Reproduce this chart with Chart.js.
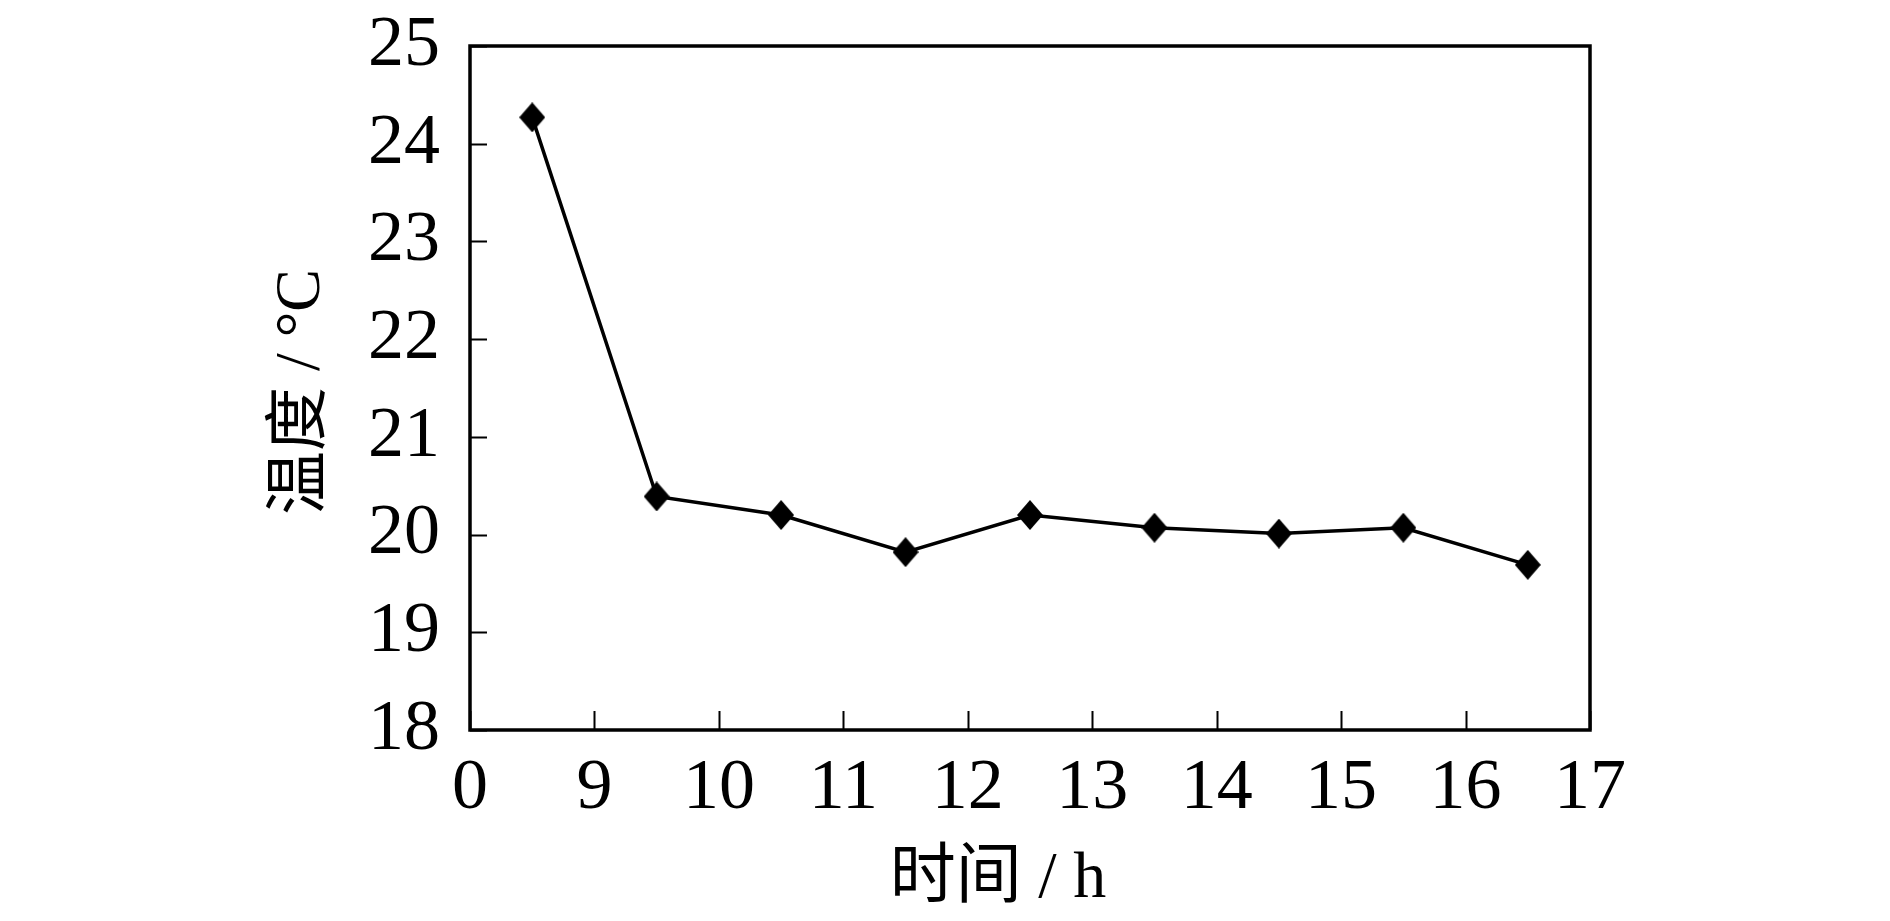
<!DOCTYPE html>
<html>
<head>
<meta charset="utf-8">
<script src="https://cdn.jsdelivr.net/npm/chart.js@4/dist/chart.umd.min.js"></script>
<style>
html, body { margin: 0; padding: 0; background: #fff; }
#wrap { width: 1890px; height: 921px; position: relative; }
</style>
</head>
<body>
<div id="wrap"><canvas id="myChart"></canvas></div>
<script>
// measurement times (h) and temperatures (°C)
const hours = [8.5, 9.5, 10.5, 11.5, 12.5, 13.5, 14.5, 15.5, 16.5];
const temps = [24.27, 20.39, 20.2, 19.82, 20.2, 20.07, 20.01, 20.07, 19.69];

// x axis tick positions and what is printed under them
const xTickValues = [8, 9, 10, 11, 12, 13, 14, 15, 16, 17];
const xTickLabels = ['0', '9', '10', '11', '12', '13', '14', '15', '16', '17'];
const yTickValues = [18, 19, 20, 21, 22, 23, 24, 25];

const xTitle = '时间 / h';
const yTitle = '温度 / °C';

const serif = '"Liberation Serif", "Times New Roman", "Noto Sans CJK SC", serif';

// slightly tall diamond marker, like the original
function makeDiamond(w, h) {
    const c = document.createElement('canvas');
    c.width = w;
    c.height = h;
    const g = c.getContext('2d');
    g.fillStyle = '#000';
    g.beginPath();
    g.moveTo(w / 2, 0);
    g.lineTo(w, h / 2);
    g.lineTo(w / 2, h);
    g.lineTo(0, h / 2);
    g.closePath();
    g.fill();
    return c;
}

// frame, inward tick marks and axis titles
const frameAndTitles = {
    id: 'frameAndTitles',
    afterDraw(chart) {
        const ctx = chart.ctx;
        const area = chart.chartArea;
        const xs = chart.scales.x;
        const ys = chart.scales.y;
        ctx.save();
        ctx.strokeStyle = '#000';
        ctx.lineWidth = 3.5;
        ctx.strokeRect(area.left, area.top, area.right - area.left, area.bottom - area.top);

        ctx.lineWidth = 2;
        ctx.beginPath();
        xTickValues.forEach(v => {
            const px = Math.round(xs.getPixelForValue(v)) + 0.5;
            ctx.moveTo(px, area.bottom);
            ctx.lineTo(px, area.bottom - 19);
        });
        yTickValues.forEach(v => {
            const py = Math.round(ys.getPixelForValue(v)) + 0.5;
            ctx.moveTo(area.left, py);
            ctx.lineTo(area.left + 17, py);
        });
        ctx.stroke();

        ctx.fillStyle = '#000';
        ctx.font = '66px ' + serif;
        ctx.textAlign = 'center';
        ctx.textBaseline = 'middle';
        ctx.fillText(xTitle, area.left + 528, 880);

        ctx.font = '64px ' + serif;
        ctx.translate(302, (area.top + area.bottom) / 2 + 4);
        ctx.rotate(-Math.PI / 2);
        ctx.fillText(yTitle, 0, 0);
        ctx.restore();
    }
};

function renderChart() {
    const ctx = document.getElementById('myChart');
    new Chart(ctx, {
        type: 'line',
        data: {
            datasets: [{
                data: hours.map((h, i) => ({ x: h, y: temps[i] })),
                borderColor: '#000',
                backgroundColor: '#000',
                borderWidth: 3.5,
                tension: 0,
                pointStyle: makeDiamond(26, 30),
                pointRadius: 15,
                pointHoverRadius: 15,
                pointBackgroundColor: '#000',
                pointBorderWidth: 0
            }]
        },
        options: {
            responsive: true,
            maintainAspectRatio: false,
            animation: false,
            layout: {
                padding: { left: 0, right: 300, top: 46, bottom: 0 }
            },
            plugins: {
                legend: { display: false },
                tooltip: { enabled: false },
                title: { display: false }
            },
            scales: {
                x: {
                    type: 'linear',
                    min: 8,
                    max: 17,
                    afterFit: (scale) => {
                        scale.height = 191;
                        scale.paddingLeft = 0;
                        scale.paddingRight = 0;
                    },
                    afterBuildTicks: (scale) => {
                        scale.ticks = xTickValues.map(v => ({ value: v }));
                    },
                    grid: { display: false, drawTicks: false },
                    border: { display: false },
                    ticks: {
                        padding: 16,
                        color: '#000',
                        maxRotation: 0,
                        font: { family: serif, size: 72 },
                        callback: (v) => xTickLabels[xTickValues.indexOf(v)]
                    }
                },
                y: {
                    min: 18,
                    max: 25,
                    afterFit: (scale) => {
                        scale.width = 470;
                        scale.paddingTop = 0;
                        scale.paddingBottom = 0;
                    },
                    afterBuildTicks: (scale) => {
                        scale.ticks = yTickValues.map(v => ({ value: v }));
                    },
                    grid: { display: false, drawTicks: false },
                    border: { display: false },
                    ticks: {
                        padding: 30,
                        color: '#000',
                        font: { family: serif, size: 72 }
                    }
                }
            }
        },
        plugins: [frameAndTitles]
    });
}

renderChart();
</script>
</body>
</html>
